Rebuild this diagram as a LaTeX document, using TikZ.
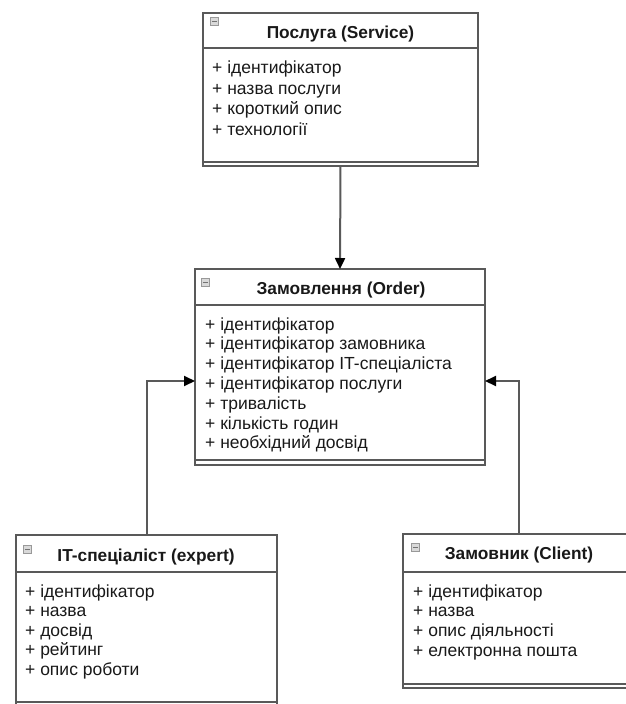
\documentclass[tikz,border=0pt]{standalone}
\usepackage{fontspec}
\setmainfont{Liberation Sans}
\usetikzlibrary{arrows.meta}
\definecolor{linegray}{gray}{0.35}
\definecolor{txt}{gray}{0.1}
\tikzset{
 umlbox/.style={draw=linegray, line width=2pt, fill=white, anchor=north west, inner sep=0pt, outer sep=0pt},
 sepline/.style={draw=linegray, line width=2pt},
 hdr/.style={font=\fontsize{17.3}{20}\selectfont\bfseries, anchor=base, inner sep=0pt, text=txt},
 item/.style={font=\fontsize{17.5}{20}\selectfont, anchor=base west, inner sep=0pt, text=txt},
 conn/.style={draw=linegray, line width=2pt, -{Triangle[length=11pt,width=10pt,fill=black,color=black]}},
 icon/.style={draw=gray!80, fill=gray!30, line width=0.8pt, minimum size=8pt, inner sep=0pt, anchor=north west}
}
\begin{document}
\begin{tikzpicture}[x=1pt,y=-1pt]
\useasboundingbox[fill=white] (0,0) rectangle (625,704);
% boxes
\node[umlbox, minimum width=275pt, minimum height=153pt] (svc) at (203,13) {};
\node[umlbox, minimum width=290pt, minimum height=196pt] (ord) at (195,269) {};
\node[umlbox, minimum width=261pt, minimum height=171pt] (exp) at (16,535) {};
\node[umlbox, minimum width=232pt, minimum height=154pt] (cli) at (403,534) {};
% header separators
\draw[sepline] ([yshift=-35pt]svc.north west) -- ([yshift=-35pt]svc.north east);
\draw[sepline] ([yshift=-36pt]ord.north west) -- ([yshift=-36pt]ord.north east);
\draw[sepline] ([yshift=-37pt]exp.north west) -- ([yshift=-37pt]exp.north east);
\draw[sepline] ([yshift=-38pt]cli.north west) -- ([yshift=-38pt]cli.north east);
% bottom separators
\draw[sepline] ([yshift=4.5pt]svc.south west) -- ([yshift=4.5pt]svc.south east);
\draw[sepline] ([yshift=5.5pt]ord.south west) -- ([yshift=5.5pt]ord.south east);
\draw[sepline] ([yshift=4.5pt]exp.south west) -- ([yshift=4.5pt]exp.south east);
\draw[sepline] ([yshift=4.5pt]cli.south west) -- ([yshift=4.5pt]cli.south east);
% icons
\node[icon] (isvc) at (210,17) {};
\node[icon] (iord) at (201,278) {};
\node[icon] (iexp) at (23,545) {};
\node[icon] (icli) at (411,543) {};
\foreach \n in {isvc,iord,iexp,icli}{
  \draw[gray!90!black, line width=0.9pt] ([xshift=-2.5pt]\n.center) -- ([xshift=2.5pt]\n.center);
}
% headers
\node[hdr] (hsvc) at (340.5,38) {Послуга (Service)};
\node[hdr] (hord) at (341,294) {Замовлення (Order)};
\node[hdr] (hexp) at (146,561) {IT-спеціаліст (expert)};
\node[hdr] (hcli) at (519,559) {Замовник (Client)};
% items
\foreach \t [count=\i] in {ідентифікатор, назва послуги, короткий опис, технології}
  \node[item] (s\i) at (212, 73.5+20.5*\i-20.5) {+ \t};
\foreach \t [count=\i] in {ідентифікатор, ідентифікатор замовника, ідентифікатор IT-спеціаліста, ідентифікатор послуги, тривалість, кількість годин, необхідний досвід}
  \node[item] (o\i) at (205, 330+19.8*\i-19.8) {+ \t};
\foreach \t [count=\i] in {ідентифікатор, назва, досвід, рейтинг, опис роботи}
  \node[item] (e\i) at (25, 597+19.5*\i-19.5) {+ \t};
\foreach \t [count=\i] in {ідентифікатор, назва, опис діяльності, електронна пошта}
  \node[item] (c\i) at (413, 597+19.7*\i-19.7) {+ \t};
% connectors
\coordinate (oL) at (195,381);
\coordinate (oR) at (485,381);
\draw[conn] (svc.south) -- (ord.north);
\draw[conn] (exp.north) |- (oL);
\draw[conn] (cli.north) |- (oR);
\end{tikzpicture}
\end{document}
